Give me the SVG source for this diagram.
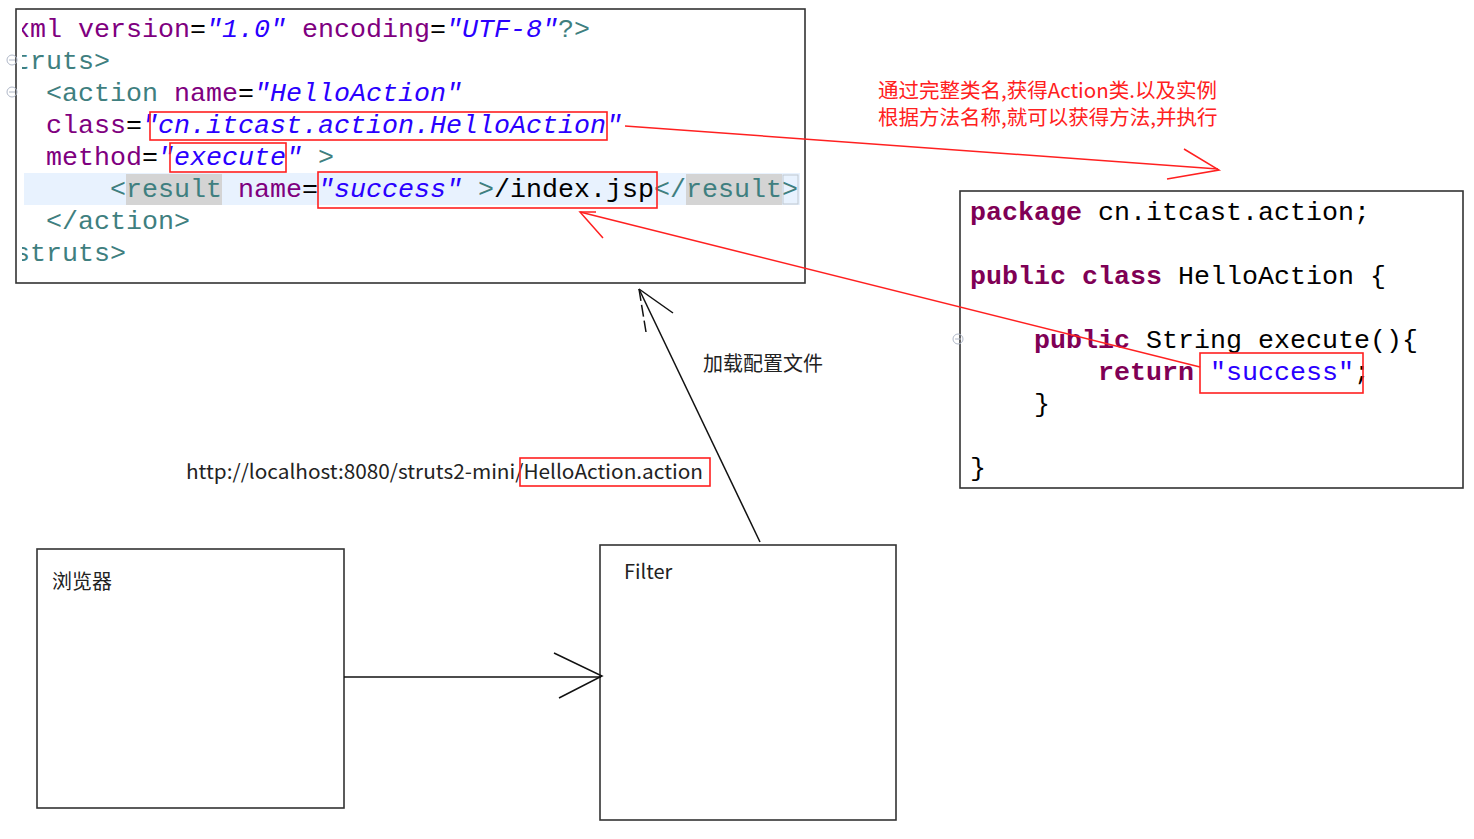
<svg xmlns="http://www.w3.org/2000/svg" width="1474" height="839" viewBox="0 0 1474 839">
<style>
.code{font-family:"Liberation Mono",monospace;font-size:26.67px;}
.t{fill:#3f7f7f}.a{fill:#7f007f}.v{fill:#2a00ff;font-style:italic}.k{fill:#000}
.kw{fill:#7f0055;font-weight:bold}.s{fill:#2a00ff}
.box{fill:#fff;stroke:#333;stroke-width:1.6}
.red{fill:none;stroke:#ff2020;stroke-width:1.5}
.hl{fill:none;stroke:#ff2020;stroke-width:1.6}
.blk{fill:none;stroke:#111;stroke-width:1.5}
.lbl{font-family:"Microsoft YaHei","Noto Sans CJK SC","Liberation Sans",sans-serif;font-size:20px;fill:#222}
.rtxt{font-family:"Microsoft YaHei","Noto Sans CJK SC",sans-serif;font-size:20.5px;fill:#ff2020}
.fold{fill:none;stroke:#b0b8c8;stroke-width:1}
</style>
<defs>
<clipPath id="cb"><rect x="22" y="10" width="782" height="272"/></clipPath>
</defs>
<rect width="1474" height="839" fill="#fff"/>

<g id="struts-xml">
<rect class="box" x="16" y="9" width="789" height="274"/>
<rect x="24" y="173" width="776" height="32" fill="#e8f2fe"/>
<rect x="126" y="174" width="96" height="31" fill="#d4d4d4"/>
<rect x="686" y="174" width="96" height="31" fill="#d4d4d4"/>
<rect x="783" y="175" width="15" height="29" fill="none" stroke="#c0c8d0" stroke-width="1"/>
<g class="code" clip-path="url(#cb)">
<text x="-18" y="37"><tspan class="t">&lt;?</tspan><tspan class="a">xml version</tspan><tspan class="k">=</tspan><tspan class="v">"1.0"</tspan><tspan class="a"> encoding</tspan><tspan class="k">=</tspan><tspan class="v">"UTF-8"</tspan><tspan class="t">?&gt;</tspan></text>
<text x="-18" y="69" class="t">&lt;struts&gt;</text>
<text x="46" y="101"><tspan class="t">&lt;action</tspan><tspan class="a"> name</tspan><tspan class="k">=</tspan><tspan class="v">"HelloAction"</tspan></text>
<text x="46" y="133"><tspan class="a">class</tspan><tspan class="k">=</tspan><tspan class="v">"cn.itcast.action.HelloAction"</tspan></text>
<text x="46" y="165"><tspan class="a">method</tspan><tspan class="k">=</tspan><tspan class="v">"execute"</tspan><tspan class="t"> &gt;</tspan></text>
<text x="110" y="197"><tspan class="t">&lt;result</tspan><tspan class="a"> name</tspan><tspan class="k">=</tspan><tspan class="v">"success"</tspan><tspan class="t"> &gt;</tspan><tspan class="k">/index.jsp</tspan><tspan class="t">&lt;/result&gt;</tspan></text>
<text x="46" y="229" class="t">&lt;/action&gt;</text>
<text x="-18" y="261" class="t">&lt;/struts&gt;</text>
</g>
<rect class="hl" x="150" y="112" width="457" height="28"/>
<rect class="hl" x="170" y="143" width="116" height="29"/>
<rect class="hl" x="318" y="172" width="339" height="36"/>
<circle class="fold" cx="12" cy="60" r="5"/><line class="fold" x1="9" y1="60" x2="15" y2="60"/>
<circle class="fold" cx="12" cy="92" r="5"/><line class="fold" x1="9" y1="92" x2="15" y2="92"/>
</g>

<g id="hello-action-java">
<rect class="box" x="960" y="191" width="503" height="297"/>
<g class="code">
<text x="970" y="220"><tspan class="kw">package</tspan><tspan class="k"> cn.itcast.action;</tspan></text>
<text x="970" y="284"><tspan class="kw">public class</tspan><tspan class="k"> HelloAction {</tspan></text>
<text x="1034" y="348"><tspan class="kw">public</tspan><tspan class="k"> String execute(){</tspan></text>
<text x="1098" y="380"><tspan class="kw">return</tspan><tspan class="k"> </tspan><tspan class="s">"success"</tspan><tspan class="k">;</tspan></text>
<text x="1034" y="412" class="k">}</text>
<text x="970" y="476" class="k">}</text>
</g>
<rect class="hl" x="1200" y="353" width="163" height="40"/>
<circle class="fold" cx="958" cy="339" r="5"/><line class="fold" x1="955" y1="339" x2="961" y2="339"/>
</g>

<g id="note">
<text class="rtxt" x="878" y="98">通过完整类名,获得Action类.以及实例</text>
<text class="rtxt" x="878" y="125">根据方法名称,就可以获得方法,并执行</text>
</g>

<g id="browser">
<rect class="box" x="37" y="549" width="307" height="259"/>
<text class="lbl" x="52" y="589">浏览器</text>
</g>

<g id="filter">
<rect class="box" x="600" y="545" width="296" height="275"/>
<text class="lbl" x="624" y="579">Filter</text>
</g>

<g id="url">
<text class="lbl" x="186" y="479" textLength="517" lengthAdjust="spacingAndGlyphs">http://localhost:8080/struts2-mini/HelloAction.action</text>
<rect class="hl" x="520" y="458" width="190" height="28"/>
</g>

<g id="load-label">
<text class="lbl" x="703" y="371">加载配置文件</text>
</g>

<g id="connectors">
<polyline class="red" points="625,126 1218,169"/>
<polyline class="red" points="1184,149 1219,170 1167,179"/>
<polyline class="red" points="1200,367 580,212"/>
<polyline class="red" points="603,238 580,212 596,212"/>
<polyline class="blk" points="760,542 639,289"/>
<polyline class="blk" points="673,313 639,289"/>
<polyline class="blk" points="639,289 646,332" stroke-dasharray="12,4"/>
<polyline class="blk" points="344,677 601,677"/>
<polyline class="blk" points="554,653 602,676 559,698"/>
</g>
</svg>
